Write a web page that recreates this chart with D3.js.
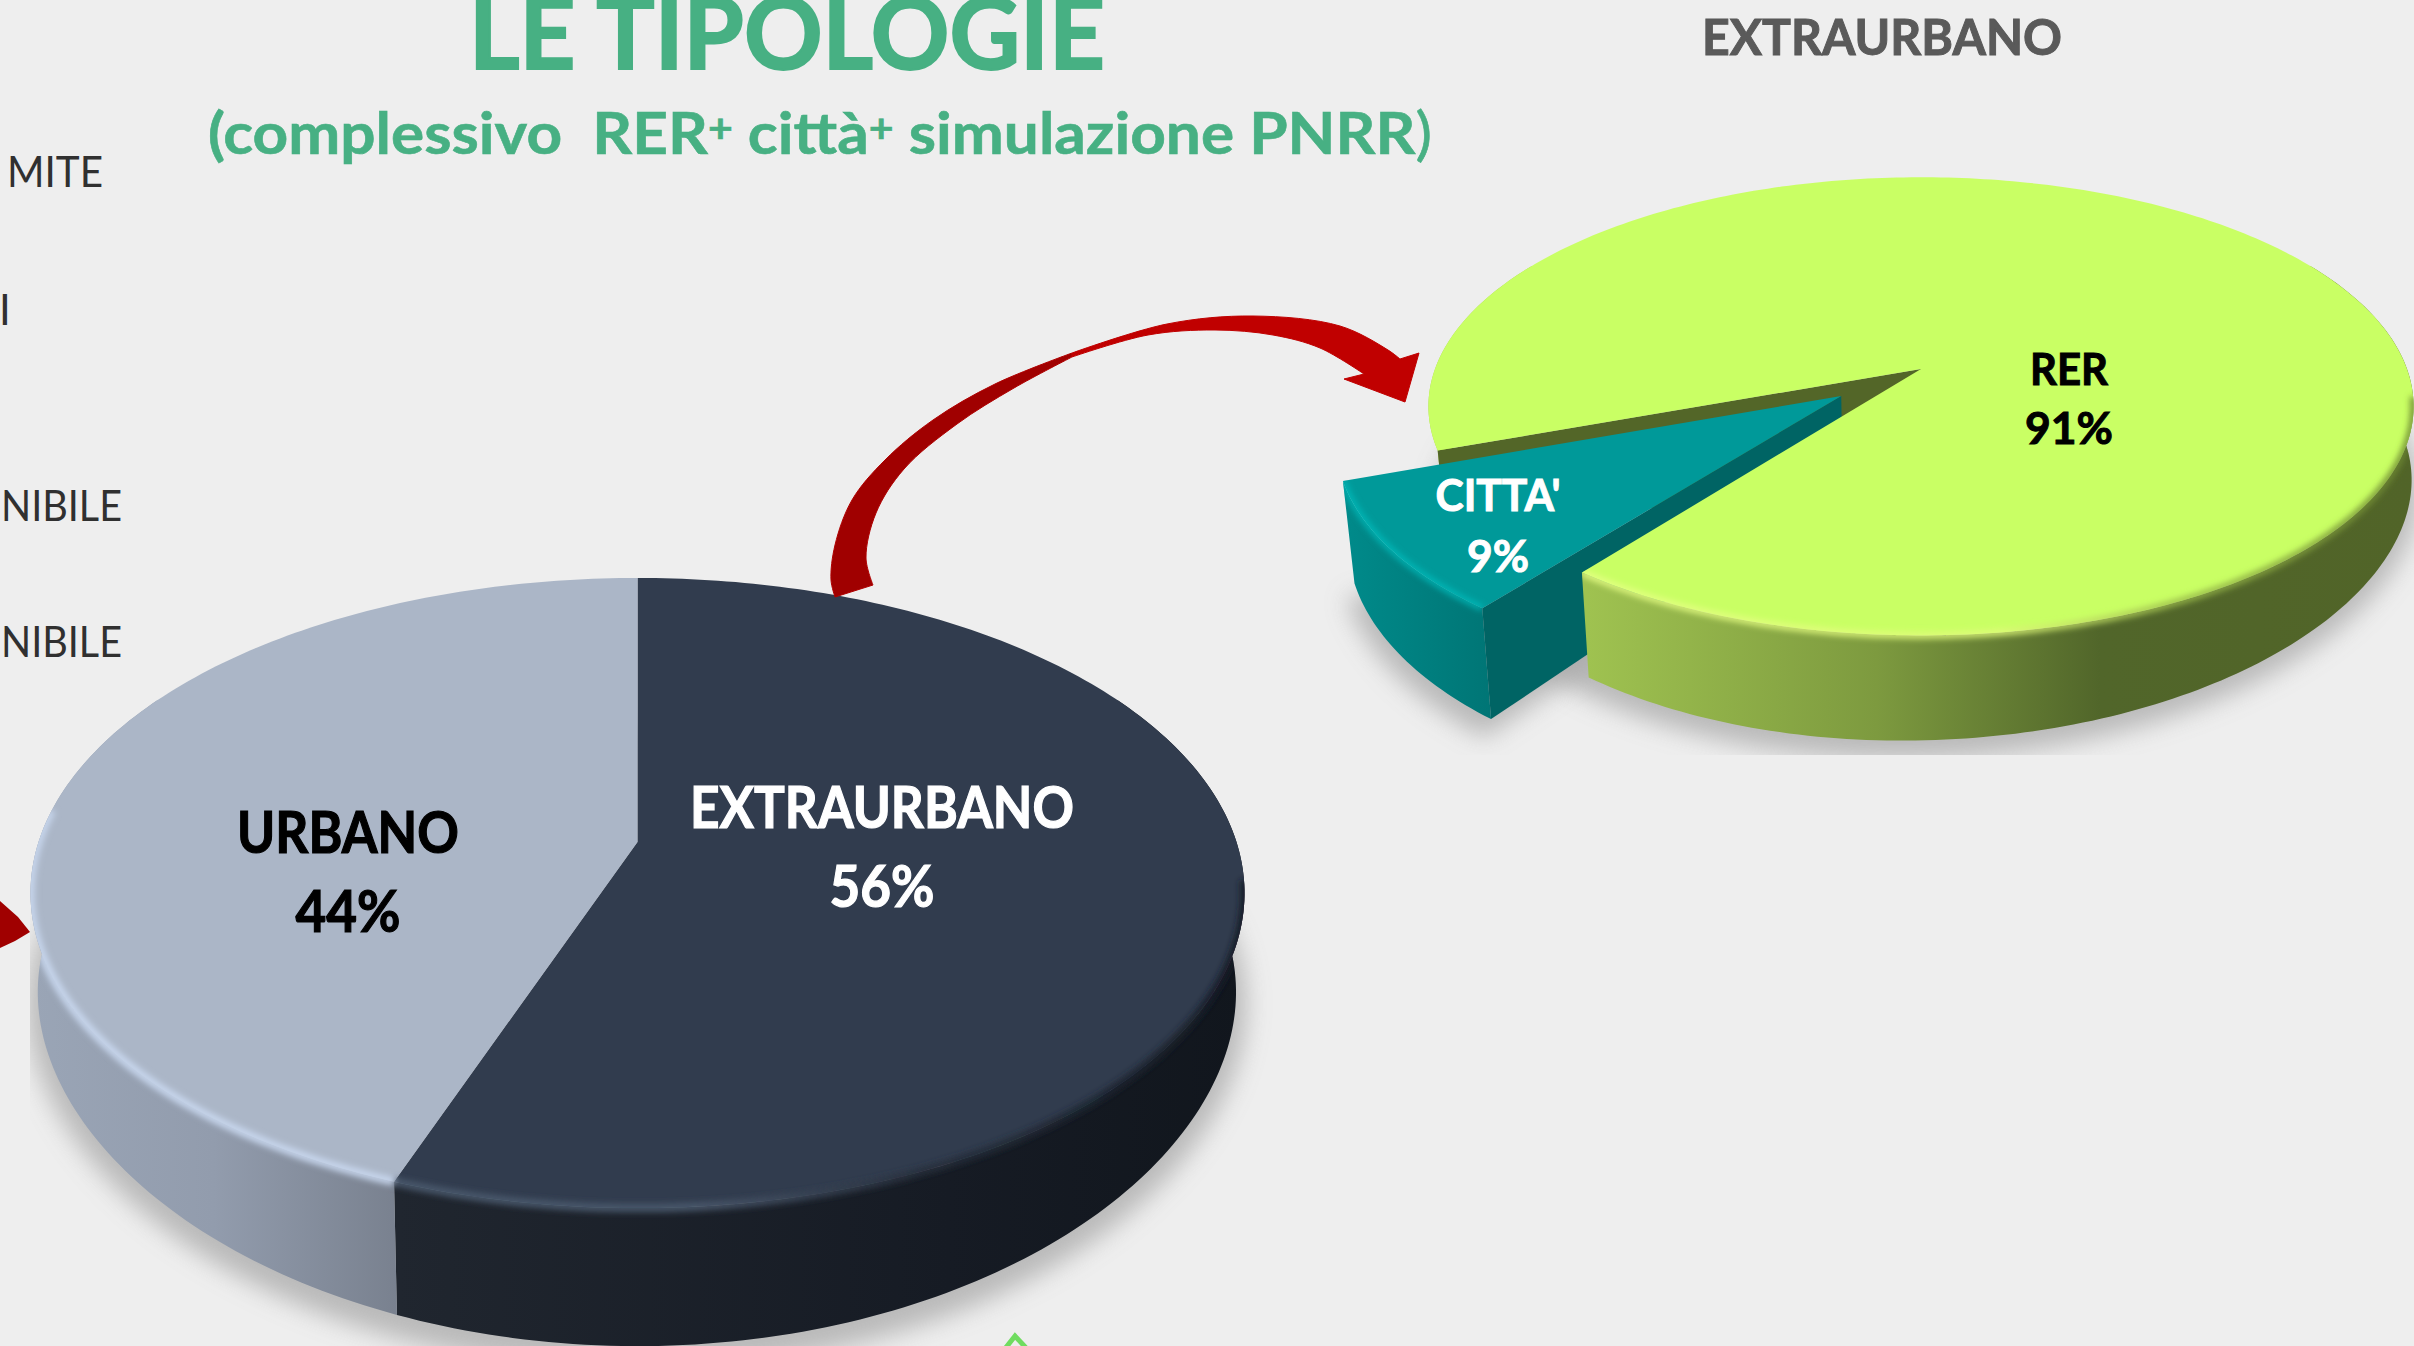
<!DOCTYPE html>
<html><head><meta charset="utf-8">
<script src="https://cdn.jsdelivr.net/npm/d3@7"></script>
<style>html,body{margin:0;padding:0;background:#eeeeee;overflow:hidden}svg{display:block}text{font-family:Lato,"Open Sans",sans-serif}</style>
</head><body><svg id="c" width="2414" height="1346"></svg>
<script>
const bigCategories = ["EXTRAURBANO", "URBANO"];
const bigValues = [55.6, 44.4];
const smallCategories = ["RER", "CITTA'"];
const smallValues = [91, 9];
const titleText = "LE TIPOLOGIE";
const rightTitle = "EXTRAURBANO";
const clippedLabels = ["MITE", "I", "NIBILE", "NIBILE"];

const rad = d3.scaleLinear().domain([0, 360]).range([0, 2 * Math.PI]);
const svg = d3.select("#c");
const defs = svg.append("defs");
[["b1", 0.7], ["b3", 3], ["b12", 12]].forEach(([id, s]) =>
  defs.append("filter").attr("id", id).attr("x", "-20%").attr("y", "-20%").attr("width", "140%").attr("height", "140%")
    .append("feGaussianBlur").attr("stdDeviation", s));
function grad(id, x1, x2, stops) {
  const g = defs.append("linearGradient").attr("id", id).attr("gradientUnits", "userSpaceOnUse")
    .attr("x1", x1).attr("x2", x2).attr("y1", 0).attr("y2", 0);
  stops.forEach(([o, c]) => g.append("stop").attr("offset", o).attr("stop-color", c));
  return `url(#${id})`;
}
const clip = (id, x, y, w, h) => defs.append("clipPath").attr("id", id).append("rect")
  .attr("x", x).attr("y", y).attr("width", w).attr("height", h);
clip("clipBig", 30, 0, 2414, 1346);
clip("clipSmall", 0, 0, 2414, 755);

svg.append("rect").attr("width", 2414).attr("height", 1346).attr("fill", "#eeeeee");

// perspective view of a disc: u right, v towards the viewer, z = 0 top face .. 1 bottom face
function view(p) {
  return (u, v, z = 0) => {
    const w = 1 - p.k * v, s = 1 - (u < 0 ? p.shrinkL : p.shrinkR) * z;
    return [p.cx + p.B * u / w * s, p.cy + p.A * v / w + z * (p.d0 + p.d1 * v * v - p.d2 * u)];
  };
}
const line = d3.line();
const closed = d3.line().curve(d3.curveLinearClosed);
const smooth = d3.line().curve(d3.curveCatmullRom.alpha(0.5));
const rimPoints = (proj, a0, a1, z, off = [0, 0]) => {
  const n = Math.max(2, Math.ceil(Math.abs(a1 - a0) / rad(1)));
  return d3.range(n + 1).map(i => {
    const a = a0 + (a1 - a0) * i / n;
    return proj(Math.sin(a) + off[0], -Math.cos(a) + off[1], z);
  });
};
const sector = (proj, a0, a1, off = [0, 0]) => closed([proj(off[0], off[1]), ...rimPoints(proj, a0, a1, 0, off)]);
const wall = (proj, a0, a1, off = [0, 0]) =>
  closed([...rimPoints(proj, a0, a1, 0, off), ...rimPoints(proj, a0, a1, 1, off).reverse()]);
const radialWall = (proj, a, off = [0, 0]) => {
  const r = (z) => proj(Math.sin(a) + off[0], -Math.cos(a) + off[1], z), c = (z) => proj(off[0], off[1], z);
  return closed([c(0), r(0), r(1), c(1)]);
};
const pie = (start) => d3.pie().sort(null).value(d => d).startAngle(start).endAngle(start + 2 * Math.PI);
function faceClip(id, paths) {
  const c = defs.append("clipPath").attr("id", id);
  paths.forEach(d => c.append("path").attr("d", d));
  return `url(#${id})`;
}
function rimGlow(g, proj, a0, a1, clipUrl, color, width, blur, off) {
  g.append("g").attr("clip-path", clipUrl).append("path")
    .attr("d", line(rimPoints(proj, a0, a1, 0, off))).attr("fill", "none")
    .attr("stroke", color).attr("stroke-width", width).attr("filter", `url(#${blur})`);
}

// ---------- big pie ----------
const bigP = { cx: 637.5, cy: 842, A: 306.8, B: 599, k: 0.162, d0: 98, d1: 40, d2: 0, shrinkL: 0.012, shrinkR: 0.014 };
const bigProj = view(bigP);
const [bigExtra, bigUrban] = pie(0)(bigValues);
const big = svg.append("g");
big.append("g").attr("clip-path", "url(#clipBig)").append("path")
  .attr("d", closed(rimPoints((u, v) => bigProj(u * 1.018, v * 1.018, 1.1), 0, 2 * Math.PI, 0)))
  .attr("fill", "#a8a8a8").attr("opacity", 0.75).attr("filter", "url(#b12)");
const sideExtra = grad("sideExtra", 397, 1245, [[0, "#20262f"], [0.65, "#161b24"], [1, "#11161d"]]);
const sideUrban = grad("sideUrban", 30, 397, [[0, "#9aa5b6"], [0.5, "#929cad"], [1, "#79818f"]]);
const bigWalls = [wall(bigProj, rad(60), bigExtra.endAngle), wall(bigProj, bigUrban.startAngle, rad(300))];
const bigTops = [sector(bigProj, bigExtra.startAngle, bigExtra.endAngle), sector(bigProj, bigUrban.startAngle, bigUrban.endAngle)];
big.append("path").attr("d", bigWalls[0]).attr("fill", sideExtra);
big.append("path").attr("d", bigWalls[1]).attr("fill", sideUrban);
big.append("path").attr("d", bigTops[0]).attr("fill", "#313c4e");
big.append("path").attr("d", bigTops[1]).attr("fill", "#abb6c7");
const bigClip = faceClip("bigFace", [...bigWalls, ...bigTops]);
const glowExtra = grad("glowExtra", 397, 1245, [[0, "#4a586c"], [0.35, "#4a586c"], [0.62, "#262e3b"], [1, "#171d27"]]);
rimGlow(big, bigProj, rad(97), bigExtra.endAngle, bigClip, glowExtra, 8, "b3");
rimGlow(big, bigProj, bigUrban.startAngle, rad(276), bigClip, "#c8d7ee", 8, "b3");

// ---------- small pie ----------
const smallP = { cx: 1921, cy: 369, A: 223, B: 486, k: 0.163, d0: 85, d1: 20, d2: 12, shrinkL: 0.02, shrinkR: 0.004 };
const smallProj = view(smallP);
const [sRer, sCity] = pie(rad(249.8))(smallValues);
const cityMid = (sCity.startAngle + sCity.endAngle) / 2, explode = 0.2;
const off = [explode * Math.sin(cityMid), -explode * Math.cos(cityMid)];
const small = svg.append("g");
const shadowG = small.append("g").attr("clip-path", "url(#clipSmall)");
const shadowProj = (u, v) => smallProj(u * 1.015, v * 1.015, 1.12);
shadowG.append("path").attr("d", closed(rimPoints(shadowProj, 0, 2 * Math.PI, 0))).attr("fill", "#a8a8a8").attr("opacity", .75).attr("filter", "url(#b12)");
shadowG.append("path").attr("d", sector(shadowProj, sCity.startAngle, sCity.endAngle, off)).attr("fill", "#a8a8a8").attr("opacity", .75).attr("filter", "url(#b12)");

const sideRer = grad("sideRer", 1588, 2414, [[0, "#9fc250"], [0.35, "#7d9a3f"], [0.62, "#51662a"], [1, "#516428"]]);
const sideCity = grad("sideCity", 1346, 1493, [[0, "#008a8a"], [1, "#007575"]]);
const rerCorner = sRer.endAngle - 2 * Math.PI;
small.append("path").attr("d", wall(smallProj, rad(249.8), rad(300))).attr("fill", "#a9cf55");
small.append("path").attr("d", radialWall(smallProj, rad(249.8))).attr("fill", "#536628");
const cityWalls = [wall(smallProj, sCity.startAngle, sCity.endAngle, off), radialWall(smallProj, sCity.startAngle, off)];
const cityTop = sector(smallProj, sCity.startAngle, sCity.endAngle, off);
small.append("path").attr("d", cityWalls[0]).attr("fill", sideCity);
small.append("path").attr("d", cityWalls[1]).attr("fill", "#006464");
small.append("path").attr("d", cityTop).attr("fill", "#009999");
rimGlow(small, smallProj, sCity.startAngle, sCity.endAngle, faceClip("cityFace", [cityWalls[0], cityTop]), "#00bcbc", 5, "b3", off);
const rerWall = wall(smallProj, rad(60), rerCorner);
const rerTop = sector(smallProj, sRer.startAngle, sRer.endAngle);
small.append("path").attr("d", rerWall).attr("fill", sideRer);
small.append("path").attr("d", rerTop).attr("fill", "#c9ff64");
const rerClip = faceClip("rerFace", [rerWall, rerTop]);
const glowRer = grad("glowRer", 1588, 2414, [[0, "#e6ff85"], [0.5, "#e0fa7a"], [0.72, "#98b84a"], [1, "#6a8430"]]);
rimGlow(small, smallProj, rad(97), rerCorner, rerClip, glowRer, 6, "b3");

// ---------- arrows (annotation shapes) ----------
const lowOuter = [[835, 597], [831, 580], [835, 545], [852, 500], [885, 460], [933, 420], [995, 384], [1072, 353]];
const lowInner = [[1072, 357], [1014, 388], [957, 424], [904, 469], [876, 513], [866, 558], [873, 585]];
const upOuter = [[1072, 353], [1167, 324], [1253, 316], [1340, 326], [1388, 350], [1400, 359]];
const upHead = [[1419, 353], [1405, 402], [1344, 379], [1364, 374]];
const upInner = [[1364, 374], [1320, 348], [1273, 335], [1215, 330], [1148, 335], [1072, 357]];
const ribbon = (outer, mid, inner) => smooth(outer) + (mid.length ? "L" + mid.join("L") : "") + "L" + smooth(inner).slice(1) + "Z";
svg.append("path").attr("d", ribbon(lowOuter, [], lowInner)).attr("fill", "#a00000").attr("stroke", "#b00000");
svg.append("path").attr("d", ribbon(upOuter, upHead, upInner)).attr("fill", "#c00000").attr("stroke", "#c00000");
const arrowLeft = [[0, 901], [18, 917], [30, 932], [15, 941], [0, 948]];
svg.append("path").attr("d", closed(arrowLeft)).attr("fill", "#a00000");
const greenMark = [[1004, 1350], [1015, 1336], [1028, 1350]];
svg.append("path").attr("d", line(greenMark)).attr("fill", "#eeeeee").attr("stroke", "#70dc60").attr("stroke-width", 5);

// ---------- text ----------
function txt(t, x, y, size, fill, weight, width, anchor = "middle", sw = 0) {
  const s = svg.append("text").text(t).attr("x", x).attr("y", y).attr("font-size", size).attr("fill", fill)
    .attr("font-weight", weight).attr("text-anchor", anchor).style("white-space", "pre");
  if (width) s.attr("textLength", width).attr("lengthAdjust", "spacingAndGlyphs");
  if (sw) s.attr("stroke", fill).attr("stroke-width", sw);
  return s;
}
txt(titleText, 787, 69, 100, "#47b083", 700, 636, "middle", 2);
const sub = svg.append("text").attr("x", 820).attr("y", 154).attr("font-size", 58).attr("fill", "#47b083")
  .attr("font-weight", 700).attr("text-anchor", "middle").attr("textLength", 1224).attr("lengthAdjust", "spacingAndGlyphs")
  .style("white-space", "pre").attr("stroke", "#47b083").attr("stroke-width", 0.6);
[["(complessivo  RER", 0], ["+", 1], [" città", 2], ["+", 1], [" simulazione PNRR", 2], [")", 3]].forEach(([t, kind]) => {
  const s = sub.append("tspan").text(t);
  if (kind === 1) s.attr("font-size", 40).attr("dy", -12);
  if (kind === 2) s.attr("dy", 12);
  if (kind === 3) s.attr("font-weight", 400);
});
txt(rightTitle, 1882, 55, 49, "#5a5a5a", 700, 360, "middle", 1).attr("filter", "url(#b1)");
txt(clippedLabels[0], 7, 187, 42, "#303030", 400, 96, "start");
txt(clippedLabels[1], -1, 325, 42, "#303030", 400, null, "start");
txt(clippedLabels[2], 1, 521, 42, "#303030", 400, 121, "start");
txt(clippedLabels[3], 1, 657, 42, "#303030", 400, 121, "start");
const bigLabelPos = [[882, 828, 384, "#ffffff"], [348, 853, 222, "#000000"]];
const bigPctPos = [[882, 907, 105], [348, 932, 105]];
bigCategories.forEach((c, i) => {
  txt(c, bigLabelPos[i][0], bigLabelPos[i][1], 58, bigLabelPos[i][3], 700, bigLabelPos[i][2], "middle", 1.2);
  txt(Math.round(bigValues[i]) + "%", bigPctPos[i][0], bigPctPos[i][1], 58, bigLabelPos[i][3], 700, bigPctPos[i][2], "middle", 1.2);
});
const smallLabelPos = [[2069, 385, 78, "#000000"], [1498, 511, 125, "#ffffff"]];
const smallPctPos = [[2069, 444, 88], [1498, 572, 62]];
smallCategories.forEach((c, i) => {
  txt(c, smallLabelPos[i][0], smallLabelPos[i][1], 44, smallLabelPos[i][3], 700, smallLabelPos[i][2], "middle", 1);
  txt(Math.round(smallValues[i]) + "%", smallPctPos[i][0], smallPctPos[i][1], 44, smallLabelPos[i][3], 700, smallPctPos[i][2], "middle", 1);
});
</script></body></html>
